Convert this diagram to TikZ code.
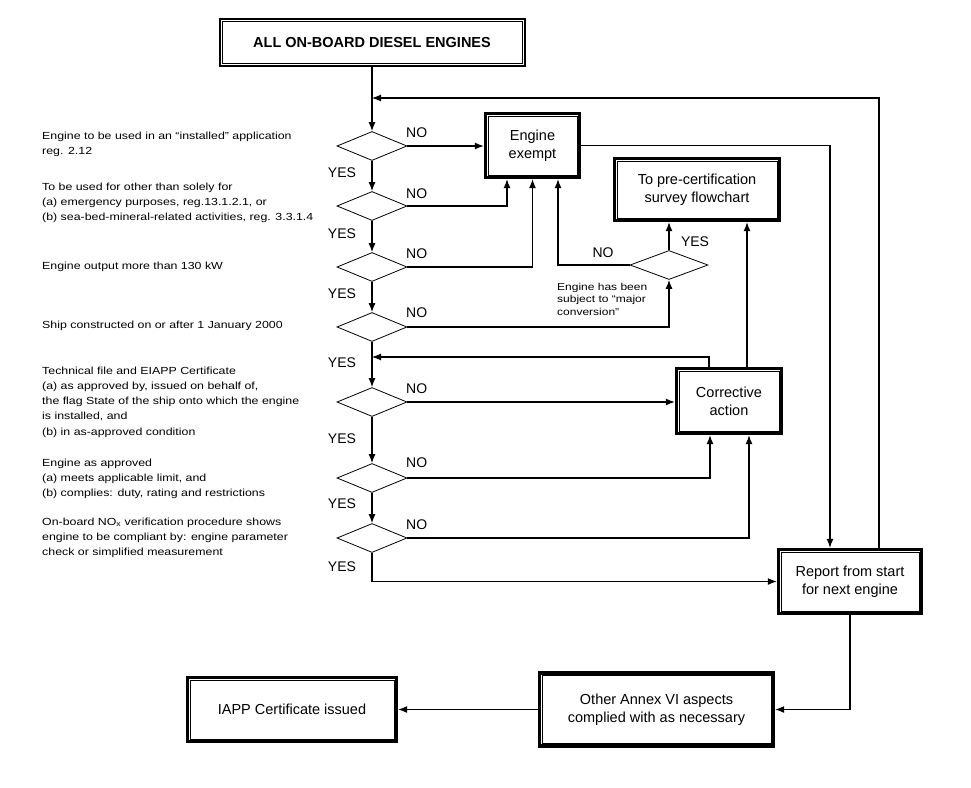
\documentclass[tikz,border=0pt]{standalone}
\usepackage{fontspec}
\setmainfont{Liberation Sans}
\newfontfamily\sidefont[FakeStretch=1.2]{Liberation Sans}
\usetikzlibrary{shapes.geometric,arrows.meta}

\tikzset{
  frame/.style={draw, line width=3.4pt, align=center, inner sep=0pt,
    font=\fontsize{14.5}{18}\selectfont},
  test/.style={draw, diamond, line width=0.8pt, inner sep=0pt,
    minimum width=70pt, minimum height=29pt},
  side/.style={anchor=west, align=left, inner sep=0pt,
    font=\sidefont\fontsize{10.3}{15.3}\selectfont},
  yesno/.style={inner sep=0pt, font=\fontsize{14}{16}\selectfont},
  flow/.style={line width=1.1pt, -{Latex[length=9pt,width=7pt]}},
}

\begin{document}
\begin{tikzpicture}[x=1pt,y=-1pt]
 \fill[white] (0,0) rectangle (971,787);
 \useasboundingbox (0,0) rectangle (971,787);

 % boxes
 \node[frame, line width=2pt, minimum width=305, minimum height=47,
   font=\bfseries\fontsize{14.5}{18}\selectfont] (start) at (372,42.5) {ALL ON-BOARD DIESEL ENGINES};
 \node[frame, minimum width=94, minimum height=64] (exempt) at (532.5,145.5) {Engine\\exempt};
 \node[frame, minimum width=165, minimum height=62] (precert) at (697,189.5) {To pre-certification\\survey flowchart};
 \node[frame, minimum width=105, minimum height=65] (corr) at (729,401) {Corrective\\action};
 \node[frame, minimum width=143, minimum height=64] (report) at (850,581.5) {Report from start\\for next engine};
 \node[frame, minimum width=234, minimum height=73] (other) at (656.5,709.5) {Other Annex VI aspects\\complied with as necessary};
 \node[frame, minimum width=209, minimum height=64] (iapp) at (292,709.5) {IAPP Certificate issued};

 % inner lines of the frames
 \foreach \n in {exempt,precert,corr,report,other,iapp}
   \draw[line width=0.6pt] ([shift={(4.2pt,-4.2pt)}]\n.north west) rectangle ([shift={(-4.2pt,4.2pt)}]\n.south east);
 \draw[line width=0.6pt] ([shift={(3.6pt,-3.6pt)}]start.north west) rectangle ([shift={(-3.6pt,3.6pt)}]start.south east);

 % decisions
 \foreach \i/\y in {1/146,2/206,3/267,4/327,5/402,6/478,7/538}
   \node[test] (d\i) at (372,\y) {};
 \node[test, minimum width=78pt] (mc) at (669,265) {};

 % questions
 \node[side] (q1) at (42,144) {Engine to be used in an “installed” application\\reg. 2.12};
 \node[side] (q2) at (42,203) {To be used for other than solely for\\(a) emergency purposes, reg.13.1.2.1, or\\(b) sea-bed-mineral-related activities, reg. 3.3.1.4};
 \node[side] (q3) at (42,267) {Engine output more than 130 kW};
 \node[side] (q4) at (42,326) {Ship constructed on or after 1 January 2000};
 \node[side] (q5) at (42,402) {Technical file and EIAPP Certificate\\(a) as approved by, issued on behalf of,\\the flag State of the ship onto which the engine\\is installed, and\\(b) in as-approved condition};
 \node[side] (q6) at (42,479) {Engine as approved\\(a) meets applicable limit, and\\(b) complies: duty, rating and restrictions};
 \node[side] (q7) at (42,538) {On-board NO\textsubscript{x} verification procedure shows\\engine to be compliant by: engine parameter\\check or simplified measurement};
 \node[side, font=\sidefont\fontsize{10}{12.5}\selectfont] (qmc) at (557,299) {Engine has been\\subject to “major\\conversion”};

 % YES / NO
 \foreach \i/\y in {1/173,2/234,3/294,4/363,5/439,6/504,7/567}
   \node[yesno] (y\i) at (342,\y) {YES};
 \foreach \i/\y in {1/133,2/194,3/254,4/313,5/389,6/463,7/525}
   \node[yesno, anchor=west] (n\i) at (406,\y) {NO};
 \node[yesno] (nmc) at (603,253) {NO};
 \node[yesno] (ymc) at (695,242) {YES};

 \coordinate (loop1) at (372,98);
 \coordinate (loop2) at (372,357);

 % main line
 \draw[flow] (start) -- (d1);
 \foreach \a/\b in {d1/d2,d2/d3,d3/d4,d4/d5,d5/d6,d6/d7}
   \draw[flow] (\a) -- (\b);
 \draw[flow] (d7.south) |- (report.west);

 % NO branches
 \draw[flow] (d1.east) -- (d1.east -| exempt.west);
 \draw[flow] (d2.east) -| ([xshift=-25.5pt]exempt.south);
 \draw[flow] (d3.east) -| (exempt.south);
 \draw[flow] (mc.west) -| ([xshift=25.5pt]exempt.south);
 \draw[flow] (d4.east) -| (mc.south);
 \draw[flow] (mc.north) -- (mc.north |- precert.south);
 \draw[flow] (d5.east) -- (d5.east -| corr.west);
 \draw[flow] (d6.east) -| ([xshift=-19pt]corr.south);
 \draw[flow] (d7.east) -| ([xshift=20pt]corr.south);

 % returns
 \draw[flow] ([xshift=-20pt]corr.north) |- (loop2);
 \draw[flow] ([xshift=18pt]corr.north) -- ([xshift=18pt]corr.north |- precert.south);
 \draw[flow] (exempt.east) -| ([xshift=-20pt]report.north);
 \draw[flow] ([xshift=29pt]report.north) |- (loop1);
 \draw[flow] (report.south) |- (other.east);
 \draw[flow] (other.west) -- (iapp.east);
\end{tikzpicture}
\end{document}
